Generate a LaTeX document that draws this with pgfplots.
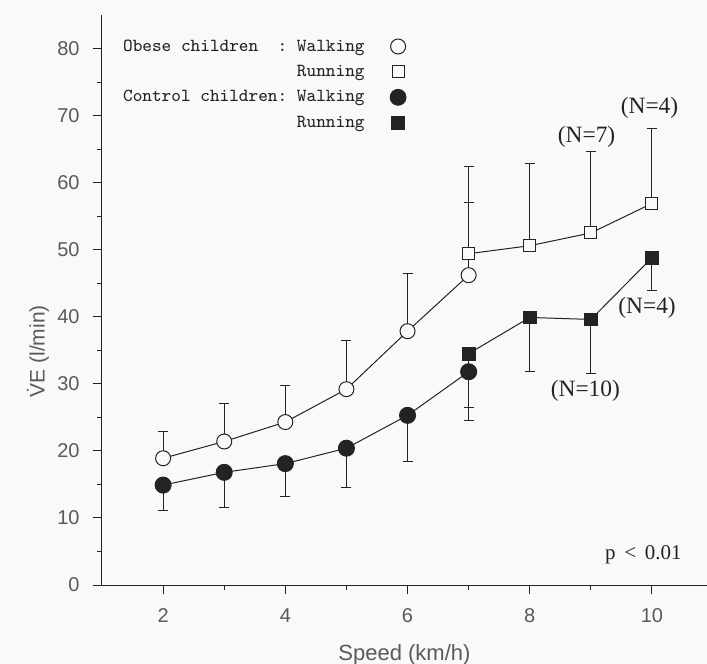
\documentclass[border=0pt]{standalone}
\usepackage{pgfplots}
\pgfplotsset{compat=1.18}
\usepackage{fontspec}
\setmainfont{Liberation Serif}
\setsansfont{Liberation Sans}

\definecolor{paper}{RGB}{251,249,247}
\definecolor{ink}{RGB}{35,35,35}
\definecolor{labelgray}{RGB}{90,90,90}

\begin{document}
\begin{tikzpicture}
\path[use as bounding box, fill=paper] (-51pt,-39.5pt) rectangle (302.5pt,292.5pt);
\begin{axis}[
    width=302.5pt, height=285pt, scale only axis,
    xmin=1, xmax=10.9, ymin=0, ymax=85,
    axis lines*=left,
    axis line style={ink, line width=0.5pt},
    xtick={2,4,...,10}, ytick={0,10,...,80},
    minor x tick num=1, minor y tick num=1,
    tick align=outside,
    major tick length=4.7pt, minor tick length=2.5pt,
    tick style={ink, line width=0.5pt},
    tick label style={font=\sffamily\fontsize{10}{12}\selectfont, text=labelgray},
    yticklabel style={xshift=-3pt},
    xticklabel style={yshift=-3.5pt},
    /pgf/number format/assume math mode=true,
    xlabel={Speed (km/h)},
    ylabel={\.{V}E (l/min)},
    xlabel style={at={(axis description cs:0.5,-0.123)}, anchor=center,
        font=\sffamily\fontsize{11}{13}\selectfont, text=labelgray},
    ylabel style={at={(axis description cs:-0.106,0.41)}, anchor=center,
        font=\sffamily\fontsize{10.5}{12}\selectfont, text=labelgray},
    clip=false,
    legend plot pos=right,
    legend cell align=right,
    legend image code/.code={\path (-16.5pt,0pt); \draw[#1] plot coordinates {(0pt,0pt)};},
    legend style={draw=none, fill=none, inner sep=0pt,
        at={(axis description cs:0,1)}, anchor=north west,
        xshift=10.35pt, yshift=-11.3pt, row sep=4.2pt,
        font=\ttfamily\fontsize{9.2}{11}\selectfont, text=ink,
        nodes={inner sep=0pt, text height=6.5pt, text depth=2pt}},
]
% legend
\addlegendimage{only marks, mark=*, mark size=3.75pt, draw=ink, fill=paper, line width=0.5pt}
\addlegendentry{Obese~children~~:~Walking}
\addlegendimage{only marks, mark=square*, mark size=3pt, draw=ink, fill=paper, line width=0.5pt}
\addlegendentry{Running}
\addlegendimage{only marks, mark=*, mark size=4pt, draw=ink, fill=ink}
\addlegendentry{Control~children:~Walking}
\addlegendimage{only marks, mark=square*, mark size=3.2pt, draw=ink, fill=ink}
\addlegendentry{Running}

% obese, walking
\addplot[forget plot, ink, line width=0.5pt, mark=*, mark size=3.75pt,
    mark options={draw=ink, fill=paper},
    error bars/.cd, y dir=plus, y explicit,
    error bar style={line width=0.5pt, ink},
    error mark options={rotate=90, mark size=2.5pt, line width=0.5pt, ink}]
coordinates {
    (2,18.9) +- (0,4.05)
    (3,21.4) +- (0,5.7)
    (4,24.3) +- (0,5.5)
    (5,29.2) +- (0,7.3)
    (6,37.85) +- (0,8.65)
    (7,46.2) +- (0,10.9)
};
% obese, running
\addplot[forget plot, ink, line width=0.5pt, mark=square*, mark size=3pt,
    mark options={draw=ink, fill=paper},
    error bars/.cd, y dir=plus, y explicit,
    error bar style={line width=0.5pt, ink},
    error mark options={rotate=90, mark size=2.5pt, line width=0.5pt, ink}]
coordinates {
    (7,49.4) +- (0,13.0)
    (8,50.6) +- (0,12.2)
    (9,52.5) +- (0,12.1)
    (10,56.9) +- (0,11.2)
};
% control, walking
\addplot[forget plot, ink, line width=0.5pt, mark=*, mark size=4pt,
    mark options={draw=ink, fill=ink},
    error bars/.cd, y dir=minus, y explicit,
    error bar style={line width=0.5pt, ink},
    error mark options={rotate=90, mark size=2.5pt, line width=0.5pt, ink}]
coordinates {
    (2,14.9) +- (0,3.8)
    (3,16.8) +- (0,5.2)
    (4,18.1) +- (0,4.9)
    (5,20.4) +- (0,5.8)
    (6,25.3) +- (0,6.9)
    (7,31.8) +- (0,7.2)
};
% control, running
\addplot[forget plot, ink, line width=0.5pt, mark=square*, mark size=3.2pt,
    mark options={draw=ink, fill=ink},
    error bars/.cd, y dir=minus, y explicit,
    error bar style={line width=0.5pt, ink},
    error mark options={rotate=90, mark size=2.5pt, line width=0.5pt, ink}]
coordinates {
    (7,34.5) +- (0,8.1)
    (8,39.9) +- (0,8.1)
    (9,39.6) +- (0,8.1)
    (10,48.8) +- (0,4.9)
};

\node[font=\fontsize{11.7}{14}\selectfont, text=ink] at (axis cs:9.96,71.2) {(N=4)};
\node[font=\fontsize{11.7}{14}\selectfont, text=ink] at (axis cs:8.93,66.8) {(N=7)};
\node[font=\fontsize{11.7}{14}\selectfont, text=ink] at (axis cs:9.92,41.4) {(N=4)};
\node[font=\fontsize{11.7}{14}\selectfont, text=ink] at (axis cs:8.91,28.9) {(N=10)};
\node[font=\fontsize{10.5}{13}\selectfont, text=ink] at (axis cs:9.86,4.5) {p \,<\, 0.01};
\end{axis}
\end{tikzpicture}
\end{document}
